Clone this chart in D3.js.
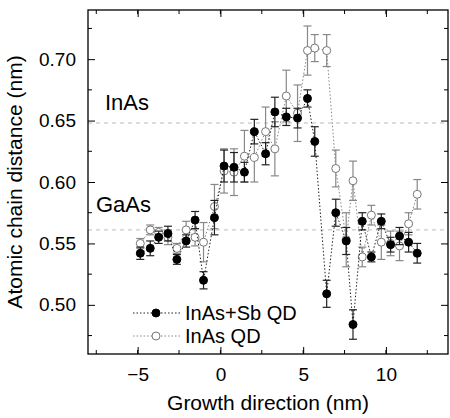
<!DOCTYPE html>
<html><head><meta charset="utf-8">
<script src="https://cdn.jsdelivr.net/npm/d3@7"></script>
<style>body{margin:0;background:#fff}text{font-family:"Liberation Sans Narrow","Liberation Sans",Arial,sans-serif}</style>
</head><body><svg id="c"></svg>
<script>
const width = 450, height = 418;
const xs = [-4.84,-4.24,-3.73,-3.17,-2.63,-2.07,-1.53,-1.02,-0.36,
  0.22,0.82,1.45,2.05,2.73,3.29,3.98,4.66,5.26,5.7,
  6.42,6.97,7.6,8.01,8.57,9.12,9.72,10.28,10.82,11.37,11.89];
const sbVals = [0.542,0.546,0.555,0.558,0.537,0.552,0.569,0.520,0.571,
  0.613,0.612,0.608,0.641,0.623,0.657,0.653,0.652,0.668,0.633,
  0.509,0.575,0.552,0.484,0.568,0.539,0.568,0.549,0.556,0.551,0.542];
const sbErr = [0.005,0.006,0.005,0.006,0.004,0.005,0.007,0.007,0.014,
  0.013,0.012,0.008,0.010,0.009,0.012,0.007,0.008,0.007,0.012,
  0.011,0.011,0.011,0.012,0.007,0.004,0.006,0.006,0.007,0.008,0.008];
const qdVals = [0.550,0.561,0.559,0.555,0.546,0.561,0.555,0.551,0.580,
  0.609,0.608,0.621,0.620,0.641,0.627,0.670,0.656,0.707,0.709,
  0.707,0.611,0.553,0.601,0.539,0.573,0.551,0.550,0.548,0.566,0.590];
const qdErr = [0.004,0.004,0.004,0.006,0.004,0.007,0.007,0.016,0.018,
  0.018,0.019,0.021,0.020,0.020,0.022,0.021,0.023,0.020,0.011,
  0.013,0.015,0.022,0.016,0.008,0.008,0.014,0.010,0.012,0.009,0.012];
const refLines = [{v:0.648, name:"InAs"}, {v:0.561, name:"GaAs"}];
const xTicks = [-5,0,5,10];
const yTicks = [0.50,0.55,0.60,0.65,0.70];

const m = {l:88, t:10, r:448, b:354};
const svg = d3.select("#c").attr("width", width).attr("height", height);
const x = d3.scaleLinear().domain([-8,13.75]).range([m.l, m.r]);
const y = d3.scaleLinear().domain([0.46,0.74]).range([m.b, m.t]);

// reference levels
svg.selectAll(".ref").data(refLines).enter().append("line")
  .attr("x1", m.l).attr("x2", m.r).attr("y1", d => y(d.v)).attr("y2", d => y(d.v))
  .attr("stroke", "#bbb").attr("stroke-dasharray", "4,4");
svg.append("text").attr("x", 105).attr("y", 110).attr("font-size", 22).text("InAs");
svg.append("text").attr("x", 96).attr("y", 212).attr("font-size", 22).text("GaAs");

// axes with inward ticks
const ax = (g, axis) => g.call(axis).call(s => s.select(".domain").remove());
const minorX = d3.range(-7.5, 14, 2.5), minorY = d3.range(0.475, 0.74, 0.05);
ax(svg.append("g").attr("transform", `translate(0,${m.b})`),
  d3.axisBottom(x).tickValues(xTicks).tickSize(-7).tickPadding(14).tickFormat(d3.format("d")));
ax(svg.append("g").attr("transform", `translate(0,${m.t})`),
  d3.axisTop(x).tickValues(xTicks).tickSize(-7).tickFormat(""));
ax(svg.append("g").attr("transform", `translate(${m.l},0)`),
  d3.axisLeft(y).tickValues(yTicks).tickSize(-7).tickPadding(12).tickFormat(d3.format(".2f")));
ax(svg.append("g").attr("transform", `translate(${m.r},0)`),
  d3.axisRight(y).tickValues(yTicks).tickSize(-7).tickFormat(""));
[[m.b,-4,"x"],[m.t,4,"x"],[m.l,4,"y"],[m.r,-4,"y"]].forEach(([p,len,k]) => {
  const vals = k === "x" ? minorX : minorY;
  svg.selectAll(null).data(vals).enter().append("line")
    .attr("stroke", "#000")
    .attr(k==="x"?"x1":"y1", d => k==="x"?x(d):y(d)).attr(k==="x"?"x2":"y2", d => k==="x"?x(d):y(d))
    .attr(k==="x"?"y1":"x1", p).attr(k==="x"?"y2":"x2", p + len);
});
svg.selectAll(".tick text").attr("font-size", 19).attr("fill", "#000");
svg.selectAll(".tick line").attr("stroke", "#000");
svg.append("rect").attr("x", m.l).attr("y", m.t).attr("width", m.r-m.l).attr("height", m.b-m.t)
  .attr("fill", "none").attr("stroke", "#000").attr("stroke-width", 1.3);

svg.append("text").attr("x", (m.l+m.r)/2).attr("y", 410).attr("text-anchor", "middle")
  .attr("font-size", 21).text("Growth direction (nm)");
svg.append("text").attr("transform", `translate(22,${(m.t+m.b)/2}) rotate(-90)`)
  .attr("text-anchor", "middle").attr("font-size", 21).text("Atomic chain distance (nm)");

function series(vals, errs, col, fill) {
  const pts = xs.map((d,i) => ({x:d, v:vals[i], e:errs[i]}));
  svg.append("path").datum(pts).attr("fill", "none").attr("stroke", col)
    .attr("stroke-dasharray", "1.5,2").attr("stroke-width", 1)
    .attr("d", d3.line().x(d => x(d.x)).y(d => y(d.v)));
  const g = svg.append("g").attr("stroke", col).attr("stroke-width", 1.2);
  pts.forEach(p => {
    const cx = x(p.x);
    g.append("line").attr("x1", cx).attr("x2", cx).attr("y1", y(p.v-p.e)).attr("y2", y(p.v+p.e));
    [p.v-p.e, p.v+p.e].forEach(v => g.append("line").attr("x1", cx-4).attr("x2", cx+4).attr("y1", y(v)).attr("y2", y(v)));
  });
  svg.append("g").selectAll("circle").data(pts).enter().append("circle")
    .attr("cx", d => x(d.x)).attr("cy", d => y(d.v)).attr("r", 4)
    .attr("fill", fill).attr("stroke", fill === "#000" ? "#000" : "#777");
}
series(qdVals, qdErr, "#888", "#fff");
series(sbVals, sbErr, "#222", "#000");

// legend
const legend = [{name:"InAs+Sb QD", col:"#222", fill:"#000", ly:313},
                {name:"InAs QD", col:"#888", fill:"#fff", ly:336}];
legend.forEach(d => {
  svg.append("line").attr("x1", 133).attr("x2", 180).attr("y1", d.ly).attr("y2", d.ly)
    .attr("stroke", d.col).attr("stroke-dasharray", "1.5,2");
  svg.append("circle").attr("cx", 156).attr("cy", d.ly).attr("r", 4)
    .attr("fill", d.fill).attr("stroke", d.fill === "#000" ? "#000" : "#777");
  svg.append("text").attr("x", 185).attr("y", d.ly + 7).attr("font-size", 20).text(d.name);
});
</script></body></html>
